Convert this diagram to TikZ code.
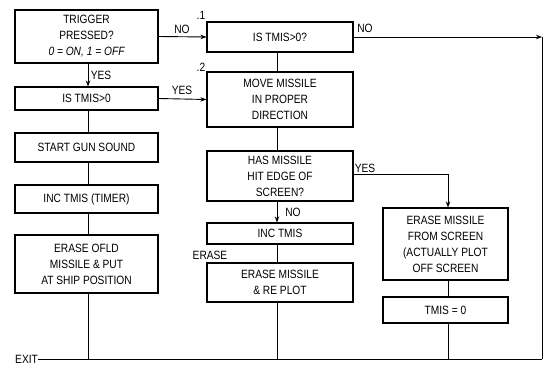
\documentclass[tikz,border=0pt]{standalone}
\usepackage{fontspec}
\setmainfont{Liberation Sans}[FakeStretch=0.85]
\usetikzlibrary{arrows.meta,calc}
\begin{document}
\begin{tikzpicture}[x=1pt,y=-1pt,
  every node/.style={font=\fontsize{12}{16}\selectfont},
  fbox/.style={draw,line width=1.1pt,inner sep=0pt,align=center},
  lbox/.style={fbox,minimum width=143pt},
  mbox/.style={fbox,minimum width=146pt},
  rbox/.style={fbox,minimum width=125pt},
  conn/.style={line width=0.9pt},
  arr/.style={conn,-{Stealth[length=6pt,width=4.5pt]}},
  lbl/.style={inner sep=0pt}]
\useasboundingbox (0,0) rectangle (551,369);
\fill[white] (0,0) rectangle (551,369);
% left column
\node[lbox,minimum height=53pt] (b1) at (86.5,36.5) {TRIGGER\\PRESSED?\\\itshape 0 = ON, 1 = OFF};
\node[lbox,minimum height=23pt] (b2) at (86.5,98.5) {IS TMIS>0};
\node[lbox,minimum height=29pt] (b5) at (86.5,147.5) {START GUN SOUND};
\node[lbox,minimum height=28pt] (b6) at (86.5,199) {INC TMIS (TIMER)};
\node[lbox,minimum height=58pt] (b7) at (86.5,264) {ERASE OFLD\\MISSILE \& PUT\\AT SHIP POSITION};
% middle column
\node[mbox,minimum height=30pt] (b3) at (280,37) {IS TMIS>0?};
\node[mbox,minimum height=55pt] (b4) at (280,99.5) {MOVE MISSILE\\IN PROPER\\DIRECTION};
\node[mbox,minimum height=50pt] (b8) at (280,176) {HAS MISSILE\\HIT EDGE OF\\SCREEN?};
\node[mbox,minimum height=21pt] (b9) at (280,233.5) {INC TMIS};
\node[mbox,minimum height=39pt] (b10) at (280,282.5) {ERASE MISSILE\\\& RE PLOT};
% right column
\node[rbox,minimum height=72pt] (b11) at (445.5,244) {ERASE MISSILE\\FROM SCREEN\\(ACTUALLY PLOT\\OFF SCREEN};
\node[rbox,minimum height=26pt] (b12) at (445.5,310) {TMIS = 0};
% labels
\node[lbl,anchor=west] (exit) at (15,359) {EXIT};
\node[lbl] (n1) at (201,15) {.1};
\node[lbl] (n2) at (201,67) {.2};
\node[lbl] (yes1) at (101,75) {YES};
\node[lbl] (no1) at (182,29) {NO};
\node[lbl] (yes2) at (182,90) {YES};
\node[lbl] (no2) at (365,28) {NO};
\node[lbl] (yes3) at (365,168) {YES};
\node[lbl] (no3) at (293,212) {NO};
\node[lbl] (erase) at (210,255) {ERASE};
% guide coordinates
\coordinate (xl) at (88,0);
\coordinate (xm) at (277,0);
\coordinate (xr) at (448,0);
\coordinate (cr) at (542,37);
\coordinate (cb) at (542,359);
\coordinate (ys) at (448,174);
% connectors
\draw[arr] (b1.south -| xl) -- (b2.north -| xl);
\draw[arr] (b1.east) -- (b3.west);
\draw[arr] (b2.east) -- (b4.west);
\draw[conn] (b2.south -| xl) -- (b5.north -| xl);
\draw[conn] (b5.south -| xl) -- (b6.north -| xl);
\draw[conn] (b6.south -| xl) -- (b7.north -| xl);
\draw[conn] (b7.south -| xl) -- (cb -| xl);
\draw[conn] (b3.south -| xm) -- (b4.north -| xm);
\draw[arr] (b3.east) -- (cr);
\draw[conn] (cr) -- (cb);
\draw[conn] (exit.east) -- (cb);
\draw[conn] (b4.south -| xm) -- (b8.north -| xm);
\draw[arr] (b8.south -| xm) -- (b9.north -| xm);
\draw[conn] (b9.south -| xm) -- (b10.north -| xm);
\draw[conn] (b10.south -| xm) -- (cb -| xm);
\draw[arr] (b8.east |- ys) -- (ys) -- (b11.north -| xr);
\draw[conn] (b11.south -| xr) -- (b12.north -| xr);
\draw[conn] (b12.south -| xr) -- (cb -| xr);
\end{tikzpicture}
\end{document}
